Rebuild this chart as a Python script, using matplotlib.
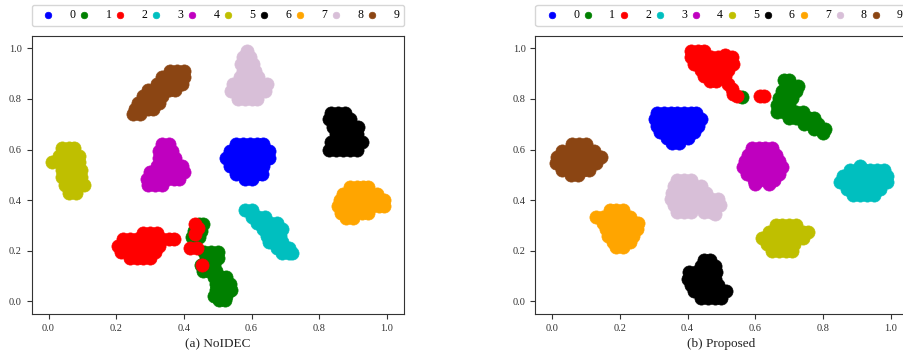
import matplotlib
matplotlib.use("Agg")
import matplotlib.pyplot as plt

plt.rcParams['font.family'] = ['Liberation Serif', 'DejaVu Serif']

class_labels = ['0', '1', '2', '3', '4', '5', '6', '7', '8', '9']
class_colors = ['b', 'g', 'r', 'c', 'm', 'y', 'k', 'orange', 'thistle', 'saddlebrown']
panel_titles = ['(a) NoIDEC', '(b) Proposed']
tick_values = [0.0, 0.2, 0.4, 0.6, 0.8, 1.0]

# Each cluster: rows of (y, [x, x, ...])
# ---------------- (a) NoIDEC ----------------
noidec_0 = [(0.62, [0.555, 0.575, 0.595, 0.615, 0.635]),
            (0.595, [0.535, 0.555, 0.575, 0.595, 0.615, 0.635, 0.65]),
            (0.565, [0.525, 0.545, 0.565, 0.585, 0.605, 0.625, 0.645, 0.65]),
            (0.535, [0.535, 0.555, 0.575, 0.595, 0.615, 0.635]),
            (0.505, [0.555, 0.575, 0.595, 0.615, 0.63]),
            (0.485, [0.58, 0.60])]
noidec_1 = [(0.305, [0.445, 0.455]),
            (0.28, [0.43, 0.45]),
            (0.255, [0.425, 0.445]),
            (0.195, [0.46, 0.48, 0.50]),
            (0.17, [0.465, 0.485, 0.50]),
            (0.145, [0.45, 0.47, 0.49]),
            (0.12, [0.455, 0.475, 0.495]),
            (0.095, [0.49, 0.51, 0.525]),
            (0.07, [0.495, 0.515, 0.535]),
            (0.045, [0.495, 0.515, 0.535, 0.54]),
            (0.02, [0.49, 0.51, 0.525]),
            (0.005, [0.505, 0.52])]
noidec_2 = [(0.27, [0.28, 0.30, 0.32]),
            (0.245, [0.22, 0.24, 0.26, 0.28, 0.30, 0.32, 0.335, 0.355, 0.37]),
            (0.22, [0.205, 0.225, 0.245, 0.265, 0.285, 0.305, 0.325]),
            (0.195, [0.215, 0.235, 0.255, 0.275, 0.295, 0.315]),
            (0.17, [0.24, 0.26, 0.28, 0.30]),
            (0.305, [0.432]),
            (0.29, [0.443]),
            (0.265, [0.432]),
            (0.212, [0.418, 0.44]),
            (0.145, [0.453])]
noidec_3 = [(0.36, [0.58, 0.60]),
            (0.335, [0.60, 0.62, 0.64]),
            (0.31, [0.615, 0.635, 0.655, 0.675]),
            (0.285, [0.635, 0.655, 0.675, 0.69]),
            (0.26, [0.645, 0.665, 0.685]),
            (0.235, [0.65, 0.67, 0.69]),
            (0.21, [0.675, 0.695, 0.71]),
            (0.19, [0.69, 0.71, 0.72])]
noidec_4 = [(0.62, [0.335, 0.355]),
            (0.595, [0.325, 0.345, 0.365]),
            (0.565, [0.325, 0.345, 0.365, 0.375]),
            (0.535, [0.32, 0.34, 0.36, 0.38, 0.395]),
            (0.51, [0.30, 0.32, 0.34, 0.36, 0.38, 0.40]),
            (0.485, [0.29, 0.31, 0.33, 0.35, 0.37, 0.385]),
            (0.46, [0.295, 0.315, 0.335])]
noidec_5 = [(0.605, [0.04, 0.06, 0.075]),
            (0.575, [0.03, 0.05, 0.07, 0.09]),
            (0.55, [0.01, 0.03, 0.05, 0.07, 0.09]),
            (0.52, [0.04, 0.06, 0.08, 0.095]),
            (0.49, [0.04, 0.06, 0.08, 0.095]),
            (0.46, [0.05, 0.07, 0.09, 0.105]),
            (0.43, [0.06, 0.08])]
noidec_6 = [(0.745, [0.835, 0.855, 0.875]),
            (0.72, [0.83, 0.85, 0.87, 0.89]),
            (0.69, [0.84, 0.86, 0.88, 0.90, 0.915]),
            (0.66, [0.85, 0.87, 0.89, 0.91]),
            (0.63, [0.835, 0.855, 0.875, 0.895, 0.915, 0.925]),
            (0.60, [0.83, 0.85, 0.87, 0.89, 0.91])]
noidec_7 = [(0.45, [0.89, 0.91, 0.93, 0.945]),
            (0.425, [0.87, 0.89, 0.91, 0.93, 0.95, 0.97]),
            (0.40, [0.86, 0.88, 0.90, 0.92, 0.94, 0.96, 0.98, 0.99]),
            (0.375, [0.855, 0.875, 0.895, 0.915, 0.935, 0.955, 0.975, 0.99]),
            (0.35, [0.865, 0.885, 0.905, 0.925, 0.945]),
            (0.33, [0.88, 0.90])]
noidec_8 = [(0.99, [0.585]),
            (0.965, [0.575, 0.595]),
            (0.94, [0.57, 0.59, 0.605]),
            (0.91, [0.575, 0.595, 0.61]),
            (0.885, [0.565, 0.585, 0.605, 0.62]),
            (0.86, [0.545, 0.565, 0.585, 0.605, 0.625, 0.645]),
            (0.83, [0.54, 0.56, 0.58, 0.60, 0.62, 0.64]),
            (0.80, [0.56, 0.58, 0.60, 0.615])]
noidec_9 = [(0.74, [0.25, 0.27]),
            (0.76, [0.255, 0.275, 0.295, 0.31]),
            (0.785, [0.265, 0.285, 0.305, 0.325]),
            (0.81, [0.28, 0.30, 0.32, 0.335]),
            (0.835, [0.295, 0.315, 0.335, 0.355, 0.375]),
            (0.86, [0.32, 0.34, 0.36, 0.38, 0.395]),
            (0.885, [0.335, 0.355, 0.375, 0.395, 0.40]),
            (0.91, [0.36, 0.38, 0.40])]

# ---------------- (b) Proposed ----------------
proposed_0 = [(0.745, [0.31, 0.33, 0.35, 0.37, 0.39, 0.41, 0.425]),
              (0.72, [0.305, 0.325, 0.345, 0.365, 0.385, 0.405, 0.425, 0.44]),
              (0.695, [0.31, 0.33, 0.35, 0.37, 0.39, 0.41, 0.43]),
              (0.67, [0.32, 0.34, 0.36, 0.38, 0.40, 0.42]),
              (0.645, [0.34, 0.36, 0.38, 0.40]),
              (0.625, [0.355, 0.375])]
proposed_1 = [(0.875, [0.685, 0.70]),
              (0.85, [0.69, 0.71, 0.725]),
              (0.83, [0.68, 0.70, 0.72]),
              (0.805, [0.67, 0.69, 0.71]),
              (0.808, [0.562]),
              (0.775, [0.665, 0.685, 0.70]),
              (0.75, [0.665, 0.685, 0.705, 0.72, 0.74]),
              (0.725, [0.70, 0.72, 0.74, 0.76, 0.775]),
              (0.70, [0.745, 0.765, 0.785]),
              (0.68, [0.775, 0.79, 0.805]),
              (0.665, [0.80])]
proposed_2 = [(0.99, [0.41, 0.43, 0.45]),
              (0.975, [0.51]),
              (0.965, [0.41, 0.43, 0.45, 0.47, 0.49, 0.51, 0.53]),
              (0.94, [0.42, 0.44, 0.46, 0.48, 0.50, 0.52, 0.535]),
              (0.915, [0.44, 0.46, 0.48, 0.50, 0.52]),
              (0.89, [0.45, 0.47, 0.49, 0.51]),
              (0.87, [0.465, 0.485]),
              (0.86, [0.52]),
              (0.84, [0.53]),
              (0.82, [0.535]),
              (0.81, [0.545]),
              (0.812, [0.615, 0.625])]
proposed_3 = [(0.535, [0.91]),
              (0.52, [0.88, 0.90, 0.92, 0.94, 0.96, 0.98]),
              (0.495, [0.86, 0.88, 0.90, 0.92, 0.94, 0.96, 0.98, 0.99]),
              (0.47, [0.85, 0.87, 0.89, 0.91, 0.93, 0.95, 0.97, 0.99]),
              (0.445, [0.87, 0.89, 0.91, 0.93, 0.95, 0.97]),
              (0.42, [0.89, 0.91, 0.93, 0.95])]
proposed_4 = [(0.605, [0.59, 0.61, 0.63, 0.65]),
              (0.58, [0.58, 0.60, 0.62, 0.64, 0.66]),
              (0.555, [0.57, 0.59, 0.61, 0.63, 0.65, 0.67]),
              (0.53, [0.565, 0.585, 0.605, 0.625, 0.645, 0.665, 0.68]),
              (0.505, [0.575, 0.595, 0.615, 0.635, 0.655, 0.67]),
              (0.48, [0.595, 0.615, 0.635, 0.655]),
              (0.465, [0.60, 0.64])]
proposed_5 = [(0.30, [0.66, 0.68, 0.70, 0.72]),
              (0.275, [0.64, 0.66, 0.68, 0.70, 0.72, 0.74, 0.755]),
              (0.25, [0.62, 0.64, 0.66, 0.68, 0.70, 0.72, 0.74]),
              (0.225, [0.635, 0.655, 0.675, 0.695, 0.715]),
              (0.20, [0.65, 0.67, 0.69, 0.71])]
proposed_6 = [(0.165, [0.45, 0.465]),
              (0.14, [0.44, 0.46, 0.48]),
              (0.115, [0.405, 0.425, 0.445, 0.465, 0.485]),
              (0.09, [0.40, 0.42, 0.44, 0.46, 0.48]),
              (0.065, [0.41, 0.43, 0.45, 0.47, 0.49]),
              (0.04, [0.42, 0.44, 0.46, 0.48, 0.50, 0.515]),
              (0.015, [0.44, 0.46, 0.48, 0.50])]
proposed_7 = [(0.36, [0.17, 0.19, 0.21]),
              (0.335, [0.13, 0.15, 0.17, 0.19, 0.21, 0.23]),
              (0.31, [0.15, 0.17, 0.19, 0.21, 0.23, 0.245, 0.255]),
              (0.285, [0.16, 0.18, 0.20, 0.22, 0.24, 0.25]),
              (0.26, [0.165, 0.185, 0.205, 0.225, 0.24]),
              (0.235, [0.18, 0.20, 0.22, 0.23]),
              (0.215, [0.19, 0.21])]
proposed_8 = [(0.48, [0.37, 0.39, 0.41]),
              (0.455, [0.36, 0.38, 0.40, 0.42, 0.44]),
              (0.43, [0.355, 0.375, 0.395, 0.415, 0.435, 0.455]),
              (0.405, [0.35, 0.37, 0.39, 0.41, 0.43, 0.45, 0.47, 0.49]),
              (0.38, [0.36, 0.38, 0.40, 0.42, 0.44, 0.46, 0.48, 0.495]),
              (0.355, [0.37, 0.39, 0.41, 0.45, 0.47]),
              (0.345, [0.48])]
proposed_9 = [(0.62, [0.06, 0.08, 0.10]),
              (0.595, [0.03, 0.05, 0.07, 0.09, 0.11, 0.125]),
              (0.57, [0.015, 0.035, 0.055, 0.075, 0.095, 0.115, 0.135, 0.145]),
              (0.545, [0.01, 0.03, 0.05, 0.07, 0.09, 0.11, 0.13]),
              (0.52, [0.03, 0.05, 0.07, 0.09, 0.11]),
              (0.50, [0.055, 0.075])]

noidec_clusters = [noidec_0, noidec_1, noidec_2, noidec_3, noidec_4,
                   noidec_5, noidec_6, noidec_7, noidec_8, noidec_9]
proposed_clusters = [proposed_0, proposed_1, proposed_2, proposed_3, proposed_4,
                     proposed_5, proposed_6, proposed_7, proposed_8, proposed_9]


def expand(rows):
    xs, ys = [], []
    for y, row in rows:
        for x in row:
            xs.append(x)
            ys.append(y)
    return xs, ys


fig = plt.figure(figsize=(9.04, 3.56), dpi=100)
ax_a = fig.add_axes([0.035, 0.118, 0.4118, 0.7817])
ax_b = fig.add_axes([0.5921, 0.118, 0.4118, 0.7817])

for ax, clusters, title in [(ax_a, noidec_clusters, panel_titles[0]),
                            (ax_b, proposed_clusters, panel_titles[1])]:
    for lab, col, rows in zip(class_labels, class_colors, clusters):
        xs, ys = expand(rows)
        ax.scatter(xs, ys, s=90, c=col, label=lab, edgecolors='face', linewidths=0.5)
    ax.set_xlim(-0.05, 1.05)
    ax.set_ylim(-0.05, 1.05)
    ax.set_xticks(tick_values)
    ax.set_yticks(tick_values)
    ax.set_xticklabels([f"{v:.1f}" for v in tick_values])
    ax.set_yticklabels([f"{v:.1f}" for v in tick_values])
    ax.tick_params(labelsize=7.5, colors='#333333', labelcolor='#333333')
    for sp in ax.spines.values():
        sp.set_color('#333333')
    ax.set_xlabel(title, fontsize=9.5, color='#222222')
    ax.legend(loc='lower left', bbox_to_anchor=(0, 1.035, 1, 0.068), mode='expand',
              ncol=10, borderaxespad=0, markerscale=0.5, fontsize=8.5,
              handletextpad=0.8, borderpad=0.4)

fig.savefig('out.png', dpi=100)
